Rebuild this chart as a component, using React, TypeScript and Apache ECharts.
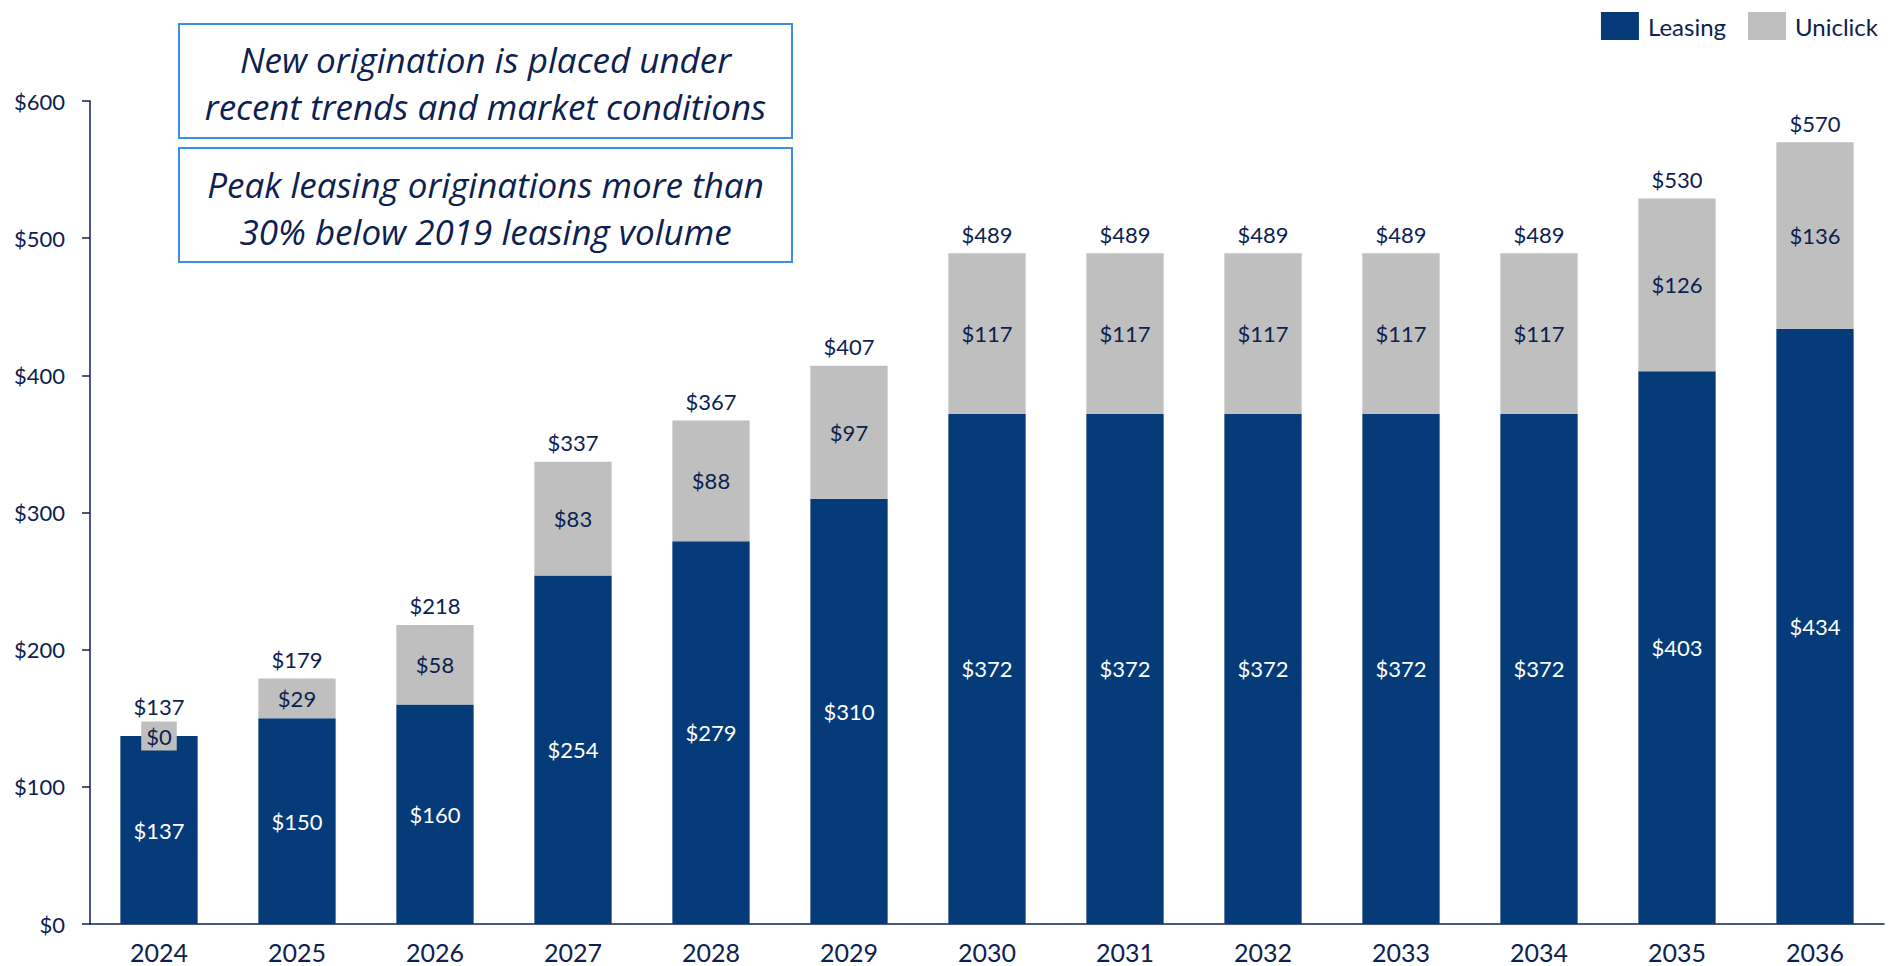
import React, { useEffect, useRef } from "react";
import * as echarts from "echarts";

const years = ["2024", "2025", "2026", "2027", "2028", "2029", "2030", "2031", "2032", "2033", "2034", "2035", "2036"];
const leasing = [137, 150, 160, 254, 279, 310, 372, 372, 372, 372, 372, 403, 434];
const uniclick = [0, 29, 58, 83, 88, 97, 117, 117, 117, 117, 117, 126, 136];
const totals = [137, 179, 218, 337, 367, 407, 489, 489, 489, 489, 489, 530, 570];
const yTicks = [0, 100, 200, 300, 400, 500, 600];
const notes = [
  "New origination is placed under\nrecent trends and market conditions",
  "Peak leasing originations more than\n30% below 2019 leasing volume",
];

const NAVY = "#0C2150";
const BLUE = "#063B7A";
const GRAY = "#BFBFBF";
const FONT = "Lato";

export default function App() {
  const ref = useRef<HTMLDivElement>(null);
  useEffect(() => {
    document.body.style.margin = "0";
    const chart = echarts.init(ref.current!, null, { renderer: "svg" });
    const labelFont = { fontFamily: FONT, fontSize: 22 };
    chart.setOption({
      animation: false,
      backgroundColor: "#fff",
      textStyle: { fontFamily: FONT },
      legend: {
        data: ["Leasing", "Uniclick"],
        right: 11,
        top: 7,
        itemWidth: 38,
        itemHeight: 28,
        itemGap: 22,
        icon: "rect",
        textStyle: { color: NAVY, fontSize: 24, fontFamily: FONT, padding: [0, 0, 0, 4] },
      },
      grid: { left: 90, right: 10, top: 101, bottom: 42, containLabel: false },
      xAxis: {
        type: "category",
        data: years,
        axisLine: { lineStyle: { color: NAVY, width: 1.5 } },
        axisTick: { show: false },
        axisLabel: { color: NAVY, fontSize: 25, fontFamily: FONT, margin: 15 },
      },
      yAxis: {
        type: "value",
        min: yTicks[0],
        max: yTicks[yTicks.length - 1],
        interval: 100,
        splitLine: { show: false },
        axisLine: { show: true, lineStyle: { color: NAVY, width: 1.5 } },
        axisTick: { show: true, length: 8, lineStyle: { color: NAVY, width: 1.5 } },
        axisLabel: { color: NAVY, ...labelFont, margin: 25, formatter: (v: number) => "$" + v },
      },
      series: [
        {
          name: "Leasing",
          type: "bar",
          stack: "t",
          barWidth: "56%",
          itemStyle: { color: BLUE },
          label: { show: true, position: "inside", color: "#fff", ...labelFont, formatter: (p: any) => "$" + p.value },
          data: leasing,
        },
        {
          name: "Uniclick",
          type: "bar",
          stack: "t",
          itemStyle: { color: GRAY },
          label: { show: true, position: "inside", color: NAVY, ...labelFont, formatter: (p: any) => "$" + p.value },
          data: uniclick.map((v) =>
            v === 0 ? { value: v, label: { backgroundColor: GRAY, padding: [4, 5, 3, 5] } } : v
          ),
        },
        {
          name: "Total",
          type: "bar",
          stack: "t",
          itemStyle: { color: "transparent" },
          label: {
            show: true,
            position: "top",
            distance: 8,
            color: NAVY,
            ...labelFont,
            formatter: (p: any) => "$" + totals[p.dataIndex],
          },
          data: totals.map((_, i) => (i === 0 ? { value: 0, label: { distance: 19 } } : 0)),
        },
      ],
      graphic: [
        { type: "rect", shape: { x: 179, y: 24, width: 613, height: 114 }, style: { fill: "#fff", stroke: "#3C8FE6", lineWidth: 2 } },
        { type: "rect", shape: { x: 179, y: 148, width: 613, height: 114 }, style: { fill: "#fff", stroke: "#3C8FE6", lineWidth: 2 } },
        {
          type: "text",
          x: 485.5,
          y: 83,
          style: { text: notes[0], fill: NAVY, font: "italic 35px 'Open Sans'", align: "center", verticalAlign: "middle", lineHeight: 47 },
        },
        {
          type: "text",
          x: 485.5,
          y: 208,
          style: { text: notes[1], fill: NAVY, font: "italic 35px 'Open Sans'", align: "center", verticalAlign: "middle", lineHeight: 47 },
        },
      ],
    });
    return () => chart.dispose();
  }, []);
  return <div ref={ref} style={{ width: 1894, height: 966 }} />;
}
